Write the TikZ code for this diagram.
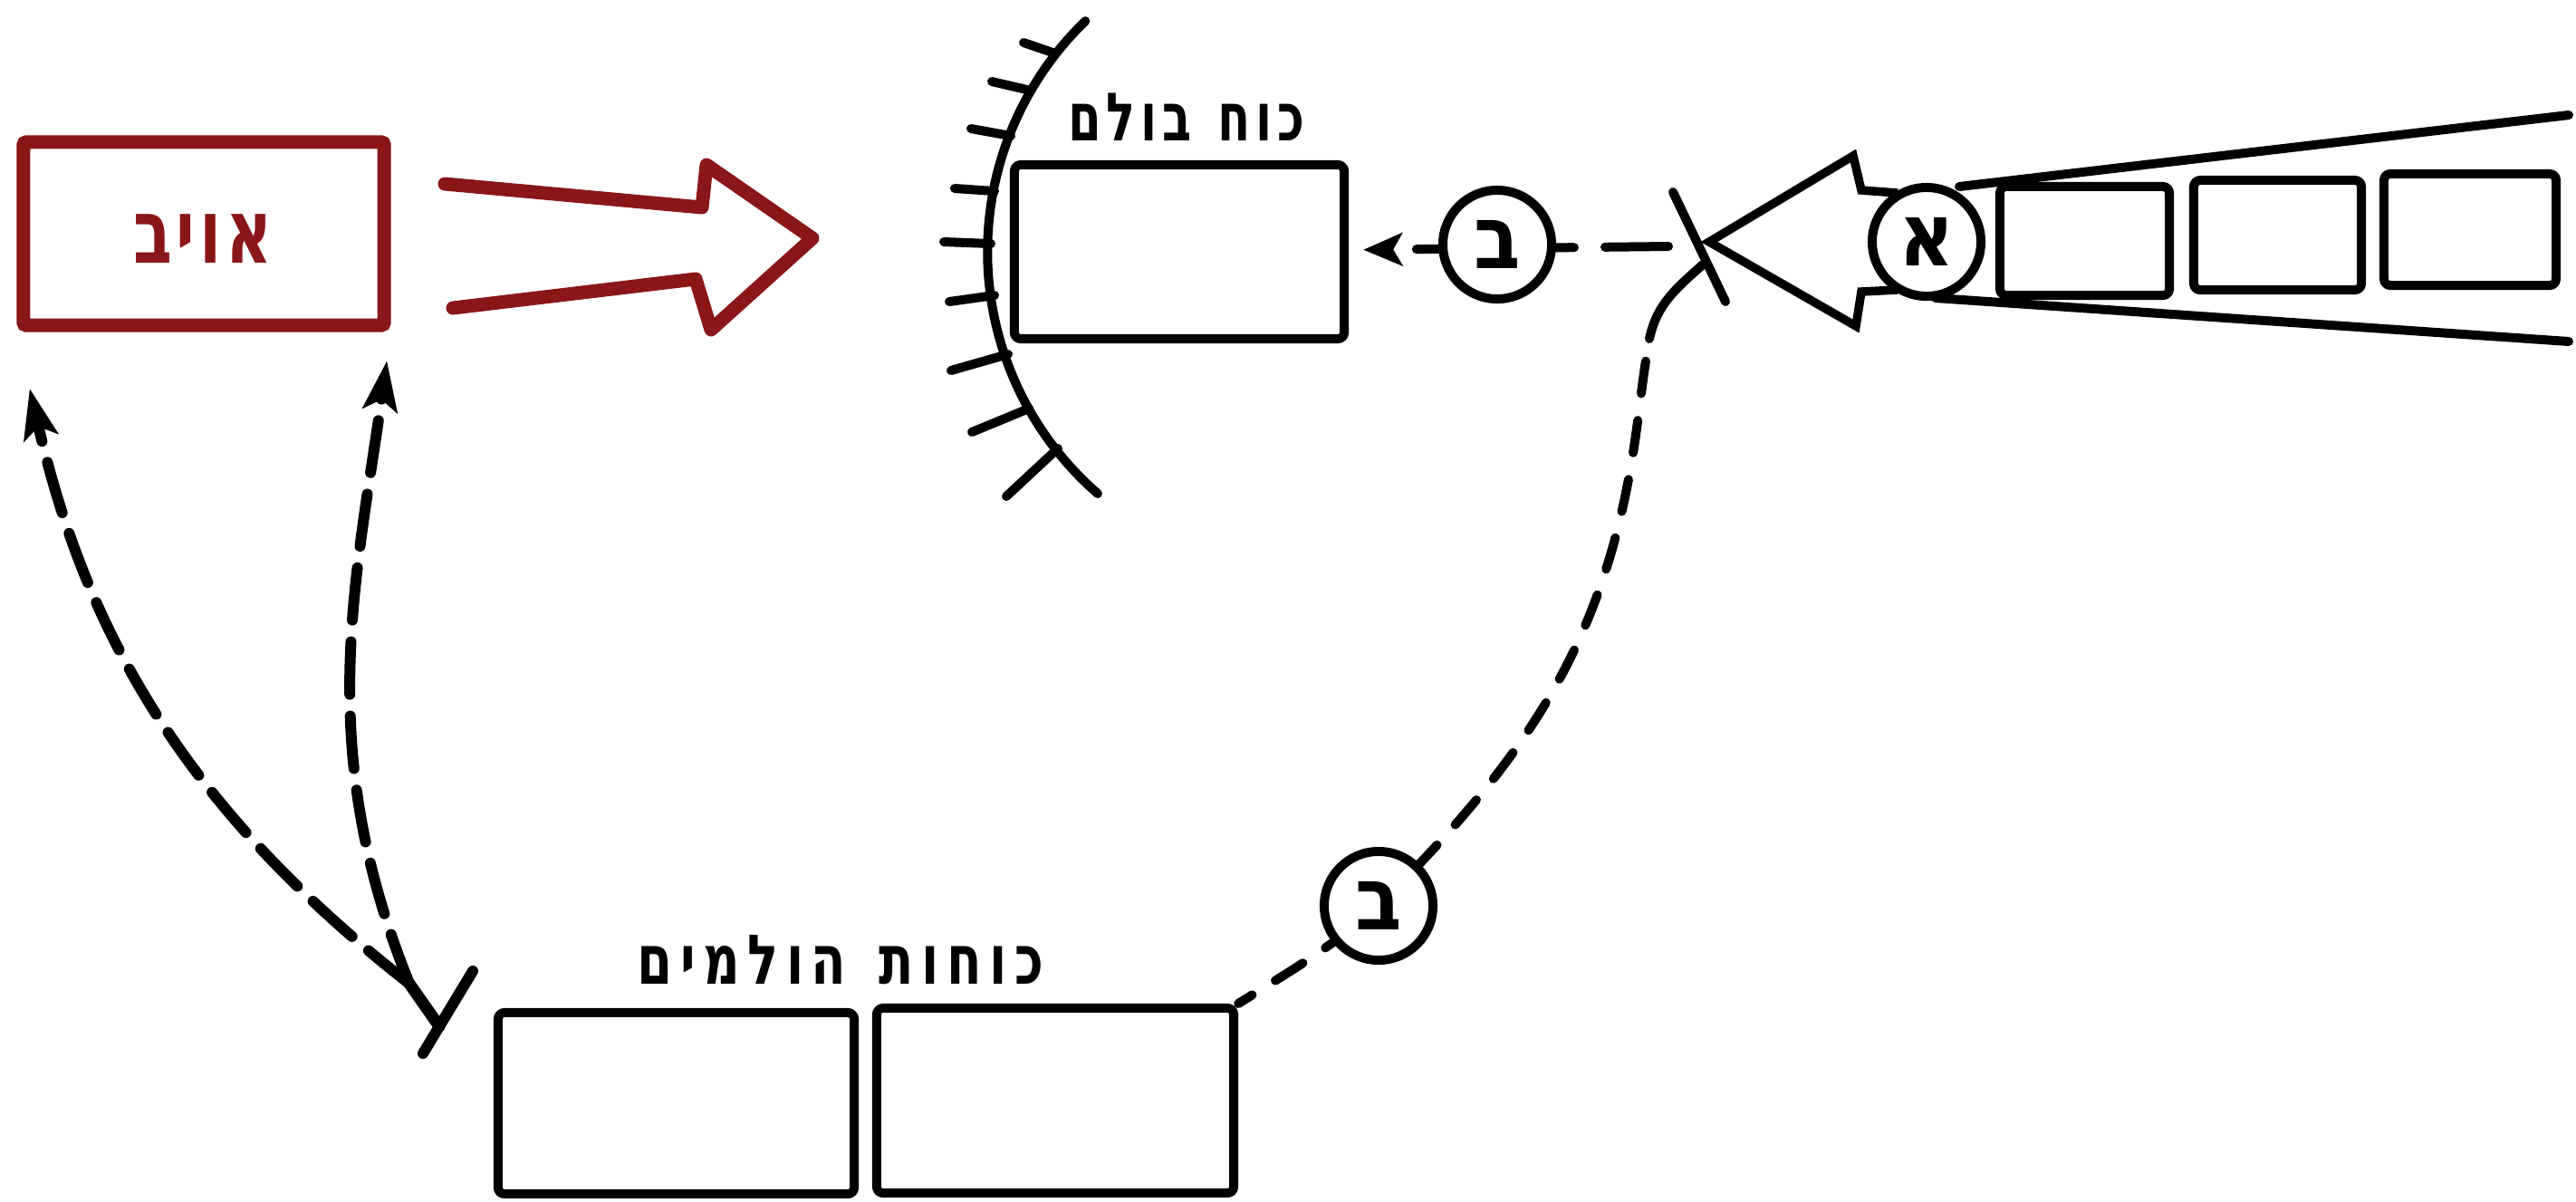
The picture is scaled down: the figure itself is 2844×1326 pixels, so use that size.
\documentclass[tikz,border=0pt]{standalone}
\usepackage{fontspec}
\usetikzlibrary{arrows.meta}
\newfontfamily\hebb{DejaVu Sans}[Script=Hebrew]
\TeXXeTstate=1
\definecolor{enemyred}{RGB}{138,22,24}
\newcommand\lspa{\kern1.4pt}
\newcommand\lspb{\kern1.6pt}
\newcommand\lspc{\kern2.4pt}
\begin{document}
\begin{tikzpicture}[x=0.01cm,y=-0.01cm,
  ln/.style={line width=0.1cm, line cap=round, line join=round},
  boxx/.style={ln, draw, rounded corners=0.07cm, inner sep=0pt},
  redbox/.style={draw=enemyred, line width=0.15cm, inner sep=0pt, rounded corners=0.03cm},
  conn/.style={ln, dash pattern=on 0.7cm off 0.34cm},
  conncurve/.style={ln, dash pattern=on 0.36cm off 0.3cm},
  tconn/.style={line width=0.12cm, line cap=round, dash pattern=on 0.58cm off 0.24cm},
  circ/.style={ln, draw, circle, fill=white, minimum size=1.2cm, inner sep=0pt,
    font=\hebb\bfseries\fontsize{24}{24}\selectfont},
  lbl/.style={inner sep=0pt},
  smalltip/.style={-{Stealth[length=0.43cm,width=0.36cm,inset=0.1cm]}},
  bigtip/.style={-{Stealth[length=0.55cm,width=0.38cm,inset=0.12cm]}}
]
\useasboundingbox (0,0) rectangle (2844,1326);

% enemy box
\node[redbox, minimum width=3.98cm, minimum height=2.02cm] (enemy) at (225,258) {};
\node[lbl, text=enemyred, font=\hebb\bfseries\fontsize{20}{20}\selectfont] (enemytxt) at (224,264)
  {\scalebox{1}[1.4]{\beginR א\lspa ו\lspa י\lspa ב\endR}};

% red hollow arrow
\draw[enemyred, line width=0.15cm, line join=round, line cap=round]
  (491,203) -- (775,229) -- (780,182) -- (897,263) -- (785,364) -- (768,308) -- (500,340);

% holding force wall
\draw[ln] (1212,545) arc[start angle=131, end angle=226, radius=354];
\foreach \a/\b in {{1165,59}/{1130,47},{1138,100}/{1095,90},{1116,150}/{1072,142},
  {1098,211}/{1054,208},{1094,269}/{1042,267},{1098,326}/{1048,333},
  {1113,391}/{1050,409},{1136,451}/{1073,477},{1168,495}/{1111,548}}
  \draw[ln] (\a) -- (\b);

% holding force box
\node[boxx, minimum width=3.64cm, minimum height=1.92cm] (hold) at (1302,278) {};
\node[lbl, anchor=base, font=\hebb\bfseries\fontsize{15}{15}\selectfont] (holdlbl) at (1310,155)
  {\scalebox{1}[1.4]{\beginR כ\lspb ו\lspb ח\lspb\ \lspb ב\lspb ו\lspb ל\lspb ם\endR}};

% striking forces boxes
\node[boxx, minimum width=3.93cm, minimum height=2.00cm] (s1) at (746.5,1218) {};
\node[boxx, minimum width=3.94cm, minimum height=2.04cm] (s2) at (1165,1215) {};
\node[lbl, anchor=base, font=\hebb\bfseries\fontsize{16}{16}\selectfont] (strikelbl) at (928,1086)
  {\scalebox{1}[1.35]{\beginR כ\lspc ו\lspc ח\lspc ו\lspc ת\lspc\ \lspc ה\lspc ו\lspc ל\lspc מ\lspc י\lspc ם\endR}};

% approaching column boxes
\node[boxx, minimum width=1.87cm, minimum height=1.20cm] (r1) at (2301.5,266) {};
\node[boxx, minimum width=1.85cm, minimum height=1.21cm] (r2) at (2514.5,259.5) {};
\node[boxx, minimum width=1.90cm, minimum height=1.23cm] (r3) at (2727,253.5) {};

% funnel lines
\coordinate (uls) at (2163,206);
\coordinate (ule) at (2836,127);
\coordinate (lls) at (2137,329);
\coordinate (lle) at (2836,377);
\draw[ln] (uls) -- (ule);
\draw[ln] (lls) -- (lle);

% black hollow arrow
\draw[line width=0.095cm, line join=miter]
  (2095,213) -- (2055,210) -- (2046,172) -- (1887,267) -- (2049,360) -- (2055,322) -- (2095,320);

% crossing mark
\coordinate (xa) at (1847,212);
\coordinate (xb) at (1905,333);
\draw[ln] (xa) -- (xb);

% connector to holding box
\coordinate (xh) at (1842,272);
\draw[conn, smalltip, shorten >=0.16cm] (xh) -- (hold);

% curved connector to striking forces
\coordinate (xc) at (1880,292);
\coordinate (p1) at (1806,480);
\coordinate (p0) at (1821,374);
\draw[conncurve, dash phase=-0.25cm] (p0) to[out=260,in=82] (p1) to[out=262,in=45] (1522,1000)
  to[out=221,in=32] (s2.north east);
\draw[ln] (xc) to[out=222,in=78] (p0);

% circles
\node[circ] (cA) at (2127,267) {\scalebox{1}[1.15]{\beginR א\endR}};
\node[circ] (cB1) at (1653,270) {\scalebox{1}[1.15]{\beginR ב\endR}};
\node[circ] (cB2) at (1522,1000) {\scalebox{1}[1.15]{\beginR ב\endR}};

% T mark and arrows to enemy
\coordinate (T) at (452,1086);
\coordinate (Tj) at (485,1133);
\coordinate (ta) at (522,1072);
\coordinate (tb) at (467,1163);
\draw[line width=0.12cm, line cap=round] (ta) -- (tb);
\draw[line width=0.13cm, line cap=round] (T) -- (Tj);
\draw[tconn, bigtip, shorten >=0.64cm] (T) to[out=142,in=-77] (enemy.south west);
\draw[tconn, bigtip, shorten >=0.32cm] (T) to[out=112,in=262] (enemy.south east);
\end{tikzpicture}
\end{document}
